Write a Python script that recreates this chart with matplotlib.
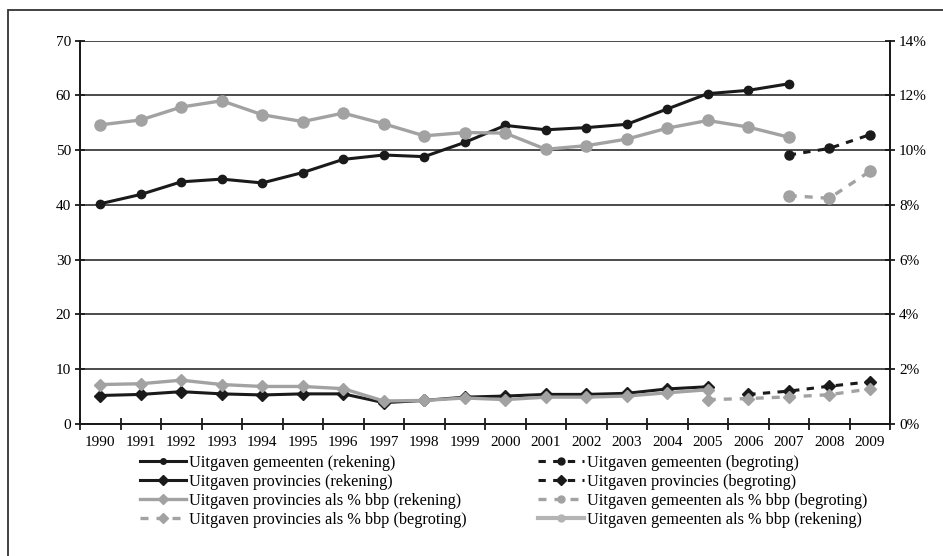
import matplotlib.pyplot as plt
from matplotlib.lines import Line2D
from matplotlib.patches import Rectangle
from matplotlib.ticker import FixedLocator, FuncFormatter

plt.rcParams['font.family'] = ['Liberation Serif', 'DejaVu Serif']

years = list(range(1990, 2010))

# uitgaven in mld euro (linker as)
gem_rek = [40.2, 41.9, 44.2, 44.7, 44.0, 45.9, 48.3, 49.1, 48.8, 51.4,
           54.5, 53.7, 54.1, 54.7, 57.5, 60.3, 60.9, 62.1]          # 1990-2007
gem_beg = [49.1, 50.3, 52.8]                                          # 2007-2009
prov_rek = [5.2, 5.4, 5.9, 5.5, 5.3, 5.5, 5.5, 3.9, 4.3, 4.9,
            5.1, 5.4, 5.4, 5.6, 6.4, 6.8]                             # 1990-2005
prov_beg = [5.4, 6.0, 6.9, 7.7]                                       # 2006-2009

# uitgaven als % bbp (rechter as)
gem_pct_rek = [10.92, 11.10, 11.57, 11.80, 11.29, 11.04, 11.35, 10.96, 10.52, 10.64,
               10.62, 10.03, 10.16, 10.40, 10.80, 11.08, 10.84, 10.47]  # 1990-2007
gem_pct_beg = [8.34, 8.24, 9.22]                                        # 2007-2009
prov_pct_rek = [1.44, 1.47, 1.60, 1.44, 1.37, 1.37, 1.29, 0.84, 0.86, 0.95,
                0.89, 0.98, 0.98, 1.02, 1.14, 1.25]                     # 1990-2005
prov_pct_beg = [0.89, 0.93, 0.99, 1.07, 1.28]                           # 2005-2009

BLACK = '#1a1a1a'
GREY = '#a2a2a2'
DASH = (0, (2.4, 2.4))


def idx(start, n):
    s = years.index(start)
    return list(range(s, s + n))


fig = plt.figure(figsize=(9.43, 5.56), dpi=100)
ax = fig.add_axes([80 / 943, 1 - 424 / 556, 810 / 943, 383.5 / 556])
ax2 = ax.twinx()

# linker as: bedragen
ax.plot(idx(1990, len(gem_rek)), gem_rek, color=BLACK, lw=2.2, marker='o', ms=6, zorder=3)
ax.plot(idx(2007, len(gem_beg)), gem_beg, color=BLACK, lw=2.2, ls=DASH, marker='o', ms=6.5, zorder=3)
ax.plot(idx(1990, len(prov_rek)), prov_rek, color=BLACK, lw=2.2, marker='D', ms=6, zorder=3)
ax.plot(idx(2006, len(prov_beg)), prov_beg, color=BLACK, lw=2.2, ls=DASH, marker='D', ms=6, zorder=3)

# rechter as: percentages
ax2.plot(idx(1990, len(gem_pct_rek)), gem_pct_rek, color=GREY, lw=2.4, marker='o', ms=8)
ax2.plot(idx(2007, len(gem_pct_beg)), gem_pct_beg, color=GREY, lw=2.4, ls=DASH, marker='o', ms=8)
ax2.plot(idx(1990, len(prov_pct_rek)), prov_pct_rek, color=GREY, lw=2.4, marker='D', ms=6.5)
ax2.plot(idx(2005, len(prov_pct_beg)), prov_pct_beg, color=GREY, lw=2.4, ls=DASH, marker='D', ms=6.5)

ax.set_xlim(-0.5, len(years) - 0.5)
ax.set_ylim(0, 70)
ax2.set_ylim(0, 14)

ax.set_yticks(range(0, 71, 10))
ax2.set_yticks(range(0, 15, 2))
ax2.yaxis.set_major_formatter(FuncFormatter(lambda v, p: f'{v:.0f}%'))

ax.set_xticks(range(len(years)))
ax.set_xticklabels([str(y) for y in years])
ax.xaxis.set_minor_locator(FixedLocator([i - 0.5 for i in range(len(years) + 1)]))
ax.tick_params(axis='x', which='major', length=0, pad=9, labelsize=11)
ax.tick_params(axis='x', which='minor', direction='inout', length=9, width=1.3, color=BLACK)
ax.tick_params(axis='y', direction='inout', length=7, width=1.3, color=BLACK, labelsize=11, pad=3)
ax2.tick_params(axis='y', direction='inout', length=7, width=1.3, color=BLACK, labelsize=11, pad=3)

ax.grid(axis='y', color=BLACK, lw=1.1)
ax.set_axisbelow(True)
for a in (ax, ax2):
    a.spines['top'].set_visible(False)
    for s in ('left', 'right', 'bottom'):
        a.spines[s].set_linewidth(1.3)
        a.spines[s].set_color(BLACK)

# legenda in twee kolommen
col1 = [
    (Line2D([], [], color=BLACK, lw=2.2, marker='o', ms=4), 'Uitgaven gemeenten (rekening)'),
    (Line2D([], [], color=BLACK, lw=2.2, marker='D', ms=5), 'Uitgaven provincies (rekening)'),
    (Line2D([], [], color=GREY, lw=2.4, marker='D', ms=5), 'Uitgaven provincies als % bbp (rekening)'),
    (Line2D([], [], color=GREY, lw=2.4, ls=DASH, marker='D', ms=5), 'Uitgaven provincies als % bbp (begroting)'),
]
col2 = [
    (Line2D([], [], color=BLACK, lw=2.2, ls=DASH, marker='o', ms=5), 'Uitgaven gemeenten (begroting)'),
    (Line2D([], [], color=BLACK, lw=2.2, ls=DASH, marker='D', ms=5), 'Uitgaven provincies (begroting)'),
    (Line2D([], [], color=GREY, lw=2.4, ls=DASH, marker='o', ms=5), 'Uitgaven gemeenten als % bbp (begroting)'),
    (Line2D([], [], color='#b4b4b4', lw=3, marker='o', ms=5), 'Uitgaven gemeenten als % bbp (rekening)'),
]
for items, x0 in ((col1, 140), (col2, 538)):
    fig.legend([h for h, _ in items], [t for _, t in items], loc='upper left',
               bbox_to_anchor=(x0 / 943, 1 - 455 / 556), frameon=False, fontsize=11.7,
               borderpad=0, borderaxespad=0, handlelength=2.8, handletextpad=0.2,
               labelspacing=0.18)

# kader om de figuur
fig.patches.append(Rectangle((8 / 943, -0.1), 1.2, 1.1 - 10 / 556, transform=fig.transFigure,
                             fill=False, lw=1.3, edgecolor='#333333'))

fig.savefig('out.png', dpi=100)
